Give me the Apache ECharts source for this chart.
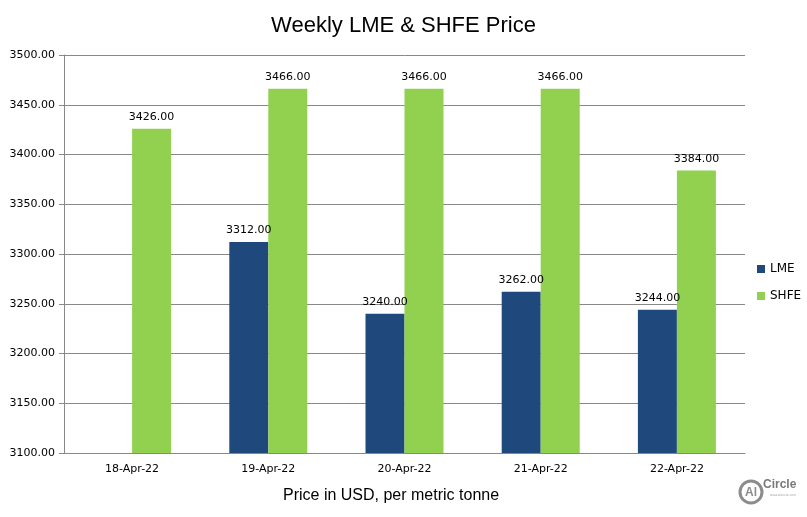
<!DOCTYPE html>
<html>
<head>
<meta charset="utf-8">
<script src="https://cdn.jsdelivr.net/npm/echarts@6/dist/echarts.min.js"></script>
<style>
  html, body { margin: 0; padding: 0; background: #fff; }
  #chart { width: 807px; height: 517px; }
</style>
</head>
<body>
<div id="chart"></div>
<script>
var dates = ['18-Apr-22', '19-Apr-22', '20-Apr-22', '21-Apr-22', '22-Apr-22']
var lmeValues = [null, 3312, 3240, 3262, 3244]
var shfeValues = [3426, 3466, 3466, 3466, 3384]

var chart = echarts.init(document.getElementById('chart'))

var labelStyle = {
    show: true,
    position: 'top',
    distance: 6,
    color: '#000',
    fontFamily: 'DejaVu Sans',
    fontSize: 11,
    formatter: function (p) { return p.value == null ? '' : p.value.toFixed(2) }
}

var option = {
    animation: false,
    title: {
        text: 'Weekly LME & SHFE Price',
        left: 'center',
        top: 10,
        textStyle: { fontFamily: 'Liberation Sans', fontSize: 22, fontWeight: 'normal', color: '#000' }
    },
    legend: {
        orient: 'vertical',
        left: 752,
        top: 258,
        itemWidth: 8,
        itemHeight: 8,
        itemGap: 15,
        icon: 'rect',
        textStyle: { fontFamily: 'DejaVu Sans', fontSize: 12, color: '#000' },
        data: ['LME', 'SHFE']
    },
    grid: { left: 64, right: 62, top: 55, bottom: 64 },
    xAxis: {
        type: 'category',
        data: dates,
        axisLine: { lineStyle: { color: '#888' } },
        axisTick: { show: false },
        axisLabel: { fontFamily: 'DejaVu Sans', fontSize: 11, color: '#000', margin: 11 }
    },
    yAxis: {
        type: 'value',
        min: 3100,
        max: 3500,
        interval: 50,
        axisLine: { show: true, lineStyle: { color: '#888' } },
        axisTick: { show: true, length: 5, lineStyle: { color: '#888' } },
        splitLine: { lineStyle: { color: '#888' } },
        axisLabel: {
            fontFamily: 'DejaVu Sans', fontSize: 11, color: '#000', margin: 9,
            formatter: function (v) { return v.toFixed(2) }
        }
    },
    series: [
        {
            name: 'LME',
            type: 'bar',
            data: lmeValues,
            barWidth: 39,
            barGap: '0%',
            itemStyle: { color: '#1F497D' },
            label: labelStyle
        },
        {
            name: 'SHFE',
            type: 'bar',
            data: shfeValues,
            barWidth: 39,
            itemStyle: { color: '#92D050' },
            label: labelStyle
        }
    ],
    graphic: [
        {
            type: 'text',
            left: 283,
            top: 488,
            style: { text: 'Price in USD, per metric tonne', fontFamily: 'Liberation Sans', fontSize: 16, fill: '#000' }
        },
        {
            type: 'circle',
            shape: { cx: 751, cy: 492, r: 11 },
            style: { fill: 'none', stroke: '#8c8c8c', lineWidth: 3 }
        },
        {
            type: 'text',
            x: 751,
            y: 493,
            style: { text: 'Al', fontFamily: 'Liberation Sans', fontWeight: 'bold', fontSize: 12, fill: '#8c8c8c', align: 'center', verticalAlign: 'middle' }
        },
        {
            type: 'text',
            x: 763,
            y: 479,
            style: { text: 'Circle', fontFamily: 'Liberation Sans', fontWeight: 'bold', fontSize: 12, fill: '#7a7a7a' }
        },
        {
            type: 'text',
            x: 770,
            y: 494,
            style: { text: 'www.alcircle.com', fontFamily: 'DejaVu Sans', fontSize: 3, fill: '#999' }
        }
    ]
}

chart.setOption(option)
</script>
</body>
</html>
